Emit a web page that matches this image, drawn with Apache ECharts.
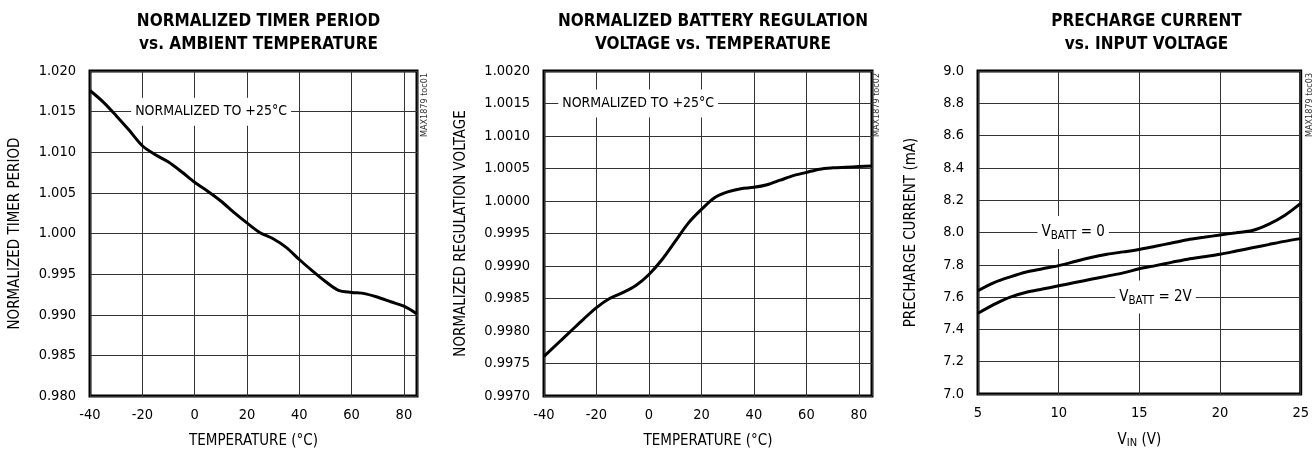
<!DOCTYPE html>
<html>
<head>
<meta charset="utf-8">
<script src="https://cdn.jsdelivr.net/npm/echarts@6/dist/echarts.min.js"></script>
<style>
  html, body { margin: 0; background: #fff; }
  #chart { width: 1312px; height: 454px; }
</style>
</head>
<body>
<div id="chart"></div>
<script>
// data
const tempC = [-40, -35, -30, -25, -20, -15, -10, -5, 0, 5, 10, 15, 20, 25, 30, 35, 40, 45, 50, 55, 60, 65, 70, 75, 80, 85]
const timerPeriod = [1.0176, 1.0162, 1.0145, 1.0127, 1.0108, 1.0097, 1.0088, 1.0076, 1.0063, 1.0052, 1.0040, 1.0026,
  1.0013, 1.0001, 0.99935, 0.9983, 0.9968, 0.9954, 0.9941, 0.9930, 0.99275, 0.9926, 0.99215, 0.9916, 0.99105, 0.9901]
const regVoltage = [0.99761, 0.99780, 0.99799, 0.99818, 0.99836, 0.99850, 0.99859, 0.99870, 0.99887, 0.99910, 0.99938,
  0.99966, 0.99987, 1.00005, 1.00014, 1.00019, 1.00021, 1.00025, 1.00032, 1.00039, 1.00044, 1.00049, 1.00051, 1.00052,
  1.00053, 1.00054]
const vin = [5, 6, 7, 8, 9, 10, 11, 12, 13, 14, 15, 16, 17, 18, 19, 20, 21, 22, 23, 24, 25]
const ichgVbatt0 = [7.64, 7.69, 7.725, 7.755, 7.775, 7.795, 7.82, 7.845, 7.865, 7.88, 7.895, 7.915, 7.935, 7.955, 7.97,
  7.985, 7.998, 8.012, 8.05, 8.105, 8.18]
const ichgVbatt2 = [7.50, 7.555, 7.60, 7.63, 7.65, 7.67, 7.69, 7.71, 7.73, 7.75, 7.775, 7.795, 7.815, 7.835, 7.85, 7.865,
  7.885, 7.905, 7.925, 7.945, 7.962]

const FONT = "'Liberation Sans Narrow', 'DejaVu Sans Condensed', 'Roboto Condensed', sans-serif"
const grids = [
  { left: 90, top: 71, width: 327, height: 326 },
  { left: 544, top: 71, width: 328, height: 326 },
  { left: 978, top: 71, width: 327, height: 326 }
]

const zip = (xs, ys) => xs.map((x, i) => [x, ys[i]])

function xAxisOf (i, min, max, interval, name, nameRich) {
  return {
    type: 'value', gridIndex: i, min: min, max: max, interval: interval,
    name: name, nameLocation: 'middle', nameGap: 38,
    nameTextStyle: { fontFamily: FONT, fontSize: 15, color: '#000', rich: nameRich },
    axisLine: { show: false }, axisTick: { show: false },
    axisLabel: { color: '#000', fontFamily: FONT, fontSize: 14.5, margin: 12, showMaxLabel: i === 2 },
    splitLine: { show: true, lineStyle: { color: '#333', width: 1 } }
  }
}
function yAxisOf (i, min, max, interval, digits, name, gap) {
  return {
    type: 'value', gridIndex: i, min: min, max: max, interval: interval,
    name: name, nameLocation: 'middle', nameGap: gap, nameRotate: 90,
    nameTextStyle: { fontFamily: FONT, fontSize: 15, color: '#000' },
    axisLine: { show: false }, axisTick: { show: false },
    axisLabel: { color: '#000', fontFamily: FONT, fontSize: 14.5, margin: 14, formatter: v => v.toFixed(digits) },
    splitLine: { show: true, lineStyle: { color: '#333', width: 1 } }
  }
}
function curve (i, data, notes) {
  return {
    type: 'line', xAxisIndex: i, yAxisIndex: i, data: data,
    showSymbol: false, smooth: 0.3, silent: true,
    lineStyle: { color: '#000', width: 3 },
    markPoint: notes ? {
      silent: true, symbol: 'circle', symbolSize: 0, animation: false,
      data: notes.map(n => ({
        coord: n.at,
        label: {
          show: true, position: 'inside', formatter: n.text,
          backgroundColor: '#fff', padding: [7, 4], color: '#000',
          fontFamily: FONT, fontSize: n.size,
          rich: {
            a: { fontFamily: FONT, fontSize: n.size, color: '#000' },
            s: { fontFamily: FONT, fontSize: 11.5, color: '#000', padding: [7, 0, 0, 0] }
          }
        }
      }))
    } : undefined
  }
}

const subRich = {
  a: { fontFamily: FONT, fontSize: 15, color: '#000' },
  s: { fontFamily: FONT, fontSize: 11, color: '#000', padding: [6, 0, 0, 0] }
}

const titleStyle = { fontFamily: FONT, fontSize: 17, fontWeight: 'bold', color: '#000', lineHeight: 23 }
const centers = grids.map(g => g.left + g.width / 2)

function tag (x, y, text) {
  return {
    type: 'text', x: x, y: y, rotation: Math.PI / 2, silent: true,
    style: { text: text, fill: '#333', font: '9px ' + FONT, align: 'center', verticalAlign: 'middle' }
  }
}

const chart = echarts.init(document.getElementById('chart'))
chart.setOption({
  animation: false,
  title: [
    { text: 'NORMALIZED TIMER PERIOD\nvs. AMBIENT TEMPERATURE', left: centers[0], top: 5, textAlign: 'center', textStyle: titleStyle },
    { text: 'NORMALIZED BATTERY REGULATION\nVOLTAGE vs. TEMPERATURE', left: centers[1], top: 5, textAlign: 'center', textStyle: titleStyle },
    { text: 'PRECHARGE CURRENT\nvs. INPUT VOLTAGE', left: centers[2], top: 5, textAlign: 'center', textStyle: titleStyle }
  ],
  grid: grids.map(g => Object.assign({ show: true, borderColor: '#000', borderWidth: 3, backgroundColor: '#fff' }, g)),
  xAxis: [
    xAxisOf(0, -40, 85, 20, 'TEMPERATURE (°C)'),
    xAxisOf(1, -40, 85, 20, 'TEMPERATURE (°C)'),
    xAxisOf(2, 5, 25, 5, '{a|V}{s|IN}{a| (V)}', subRich)
  ],
  yAxis: [
    yAxisOf(0, 0.980, 1.020, 0.005, 3, 'NORMALIZED TIMER PERIOD', 67),
    yAxisOf(1, 0.9970, 1.0020, 0.0005, 4, 'NORMALIZED REGULATION VOLTAGE', 75),
    yAxisOf(2, 7.0, 9.0, 0.2, 1, 'PRECHARGE CURRENT (mA)', 59)
  ],
  series: [
    curve(0, zip(tempC, timerPeriod), [{ at: [6.3, 1.015], text: 'NORMALIZED TO +25°C', size: 14 }]),
    curve(1, zip(tempC, regVoltage), [{ at: [-4.1, 1.0015], text: 'NORMALIZED TO +25°C', size: 14 }]),
    curve(2, zip(vin, ichgVbatt0), [
      { at: [10.9, 8.0], text: '{a|V}{s|BATT}{a| = 0}', size: 15 },
      { at: [16.0, 7.6], text: '{a|V}{s|BATT}{a| = 2V}', size: 15 }
    ]),
    curve(2, zip(vin, ichgVbatt2))
  ],
  graphic: [
    tag(425, 105, 'MAX1879 toc01'),
    tag(877, 105, 'MAX1879 toc02'),
    tag(1310, 105, 'MAX1879 toc03')
  ]
})
</script>
</body>
</html>
